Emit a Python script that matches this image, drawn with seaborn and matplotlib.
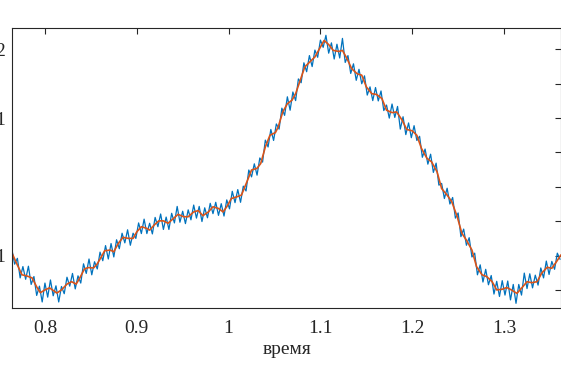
import numpy as np
import pandas as pd
import matplotlib
matplotlib.use("Agg")
import matplotlib.pyplot as plt
import seaborn as sns

# smooth (orange) curve
t_smooth = [0.764, 0.769, 0.775, 0.780, 0.786, 0.791, 0.795, 0.800, 0.805, 0.813,
            0.818, 0.824, 0.829, 0.834, 0.838, 0.843, 0.847, 0.853, 0.857, 0.862,
            0.865, 0.871, 0.875, 0.880, 0.885, 0.891, 0.896, 0.900, 0.905, 0.911,
            0.914, 0.919, 0.924, 0.929, 0.934, 0.940, 0.945, 0.951, 0.956, 0.962,
            0.967, 0.972, 0.978, 0.983, 0.989, 0.994, 0.998, 1.003, 1.009, 1.014,
            1.020, 1.025, 1.031, 1.035, 1.040, 1.045, 1.051, 1.054, 1.059, 1.064,
            1.069, 1.073, 1.078, 1.083, 1.089, 1.094, 1.099, 1.104, 1.109, 1.114,
            1.120, 1.124, 1.129, 1.134, 1.140, 1.145, 1.150, 1.156, 1.161, 1.167,
            1.172, 1.178, 1.183, 1.189, 1.194, 1.200, 1.205, 1.210, 1.216, 1.221,
            1.227, 1.232, 1.238, 1.243, 1.249, 1.254, 1.259, 1.265, 1.270, 1.276,
            1.281, 1.287, 1.292, 1.298, 1.303, 1.308, 1.314, 1.319, 1.325, 1.330,
            1.336, 1.341, 1.347, 1.352, 1.357, 1.362]
v_smooth = [1.08, 0.78, 0.44, 0.41, 0.35, 0.09, -0.08, 0.00, 0.06, -0.09,
            0.00, 0.17, 0.24, 0.17, 0.35, 0.61, 0.65, 0.64, 0.76, 0.99,
            1.14, 1.16, 1.11, 1.36, 1.53, 1.50, 1.50, 1.69, 1.84, 1.79,
            1.74, 1.89, 2.01, 2.01, 1.94, 2.08, 2.20, 2.13, 2.13, 2.27,
            2.31, 2.16, 2.27, 2.42, 2.37, 2.27, 2.42, 2.66, 2.71, 2.76,
            3.15, 3.49, 3.54, 3.68, 4.16, 4.50, 4.58, 4.74, 5.18, 5.42,
            5.52, 5.71, 6.10, 6.49, 6.65, 6.78, 7.02, 7.26, 7.14, 6.97,
            6.94, 6.97, 6.73, 6.44, 6.29, 6.25, 5.91, 5.71, 5.69, 5.57,
            5.23, 5.16, 5.18, 4.94, 4.67, 4.63, 4.50, 4.12, 3.83, 3.73,
            3.44, 2.95, 2.76, 2.57, 2.13, 1.65, 1.45, 1.16, 0.68, 0.44,
            0.39, 0.24, 0.00, 0.02, 0.07, 0.00, -0.10, 0.05, 0.24, 0.21,
            0.24, 0.49, 0.66, 0.63, 0.82, 1.02]

# noisy (blue) measurement, sampled every 0.003 from 0.764
t_start, t_step = 0.764, 0.003
v_noisy = [1.18, 0.75, 0.92, 0.35, 0.68, 0.31, 0.69, 0.16, 0.39, -0.16,
           0.11, -0.35, 0.20, -0.21, 0.29, -0.17, 0.12, -0.35, 0.10, -0.11,
           0.37, 0.11, 0.48, 0.03, 0.41, 0.20, 0.76, 0.48, 0.90, 0.44,
           0.82, 0.61, 1.10, 0.85, 1.29, 0.90, 1.35, 0.96, 1.46, 1.20,
           1.65, 1.37, 1.75, 1.30, 1.65, 1.50, 1.95, 1.64, 2.06, 1.64,
           1.94, 1.63, 2.11, 1.84, 2.21, 1.76, 2.12, 1.76, 2.23, 1.95,
           2.43, 1.97, 2.29, 1.93, 2.33, 2.04, 2.47, 2.09, 2.43, 1.99,
           2.39, 2.10, 2.52, 2.22, 2.55, 2.17, 2.51, 2.15, 2.62, 2.36,
           2.87, 2.54, 2.92, 2.55, 3.02, 2.88, 3.49, 3.29, 3.67, 3.34,
           3.84, 3.72, 4.36, 4.16, 4.67, 4.35, 4.83, 4.68, 5.29, 5.08,
           5.62, 5.23, 5.76, 5.51, 6.14, 6.03, 6.61, 6.35, 6.82, 6.50,
           6.98, 6.77, 7.27, 7.06, 7.41, 6.89, 7.19, 6.72, 7.15, 6.75,
           7.32, 6.62, 6.82, 6.30, 6.58, 6.10, 6.42, 6.00, 6.23, 5.67,
           5.91, 5.51, 5.89, 5.50, 5.79, 5.22, 5.38, 5.00, 5.41, 5.02,
           5.34, 4.68, 5.04, 4.52, 4.86, 4.43, 4.78, 4.35, 4.47, 3.86,
           4.10, 3.66, 3.95, 3.42, 3.69, 3.05, 3.10, 2.66, 2.96, 2.50,
           2.69, 2.09, 2.24, 1.55, 1.77, 1.30, 1.52, 0.96, 1.07, 0.44,
           0.73, 0.23, 0.60, 0.15, 0.42, -0.12, 0.25, -0.19, 0.27, -0.15,
           0.26, -0.29, 0.16, -0.39, 0.16, -0.15, 0.49, 0.04, 0.47, 0.06,
           0.43, 0.14, 0.64, 0.35, 0.84, 0.45, 0.83, 0.60, 1.07, 0.89]
t_noisy = np.linspace(t_start, t_start + t_step * (len(v_noisy) - 1), len(v_noisy))

x_ticks = [0.8, 0.9, 1.0, 1.1, 1.2, 1.3]
x_tick_labels = ["0.8", "0.9", "1", "1.1", "1.2", "1.3"]
y_ticks = [0, 1, 2, 3, 4, 5, 6, 7]
y_tick_labels = ["", "1", "", "", "", "1", "", "2"]

sns.set_style("white")
plt.rcParams['font.family'] = ['Liberation Serif', 'DejaVu Serif']

fig = plt.figure(figsize=(5.61, 3.74), dpi=100)
ax = fig.add_axes([0.022, 0.177, 0.978, 0.747])

noisy = pd.DataFrame({'t': t_noisy, 'v': v_noisy})
smooth = pd.DataFrame({'t': t_smooth, 'v': v_smooth})
sns.lineplot(data=noisy, x='t', y='v', ax=ax, color='#0072BD', linewidth=0.9,
             estimator=None, sort=False)
sns.lineplot(data=smooth, x='t', y='v', ax=ax, color='#D95319', linewidth=1.2,
             estimator=None, sort=False)

ax.set_xlim(0.7645, 1.362)
ax.set_ylim(-0.52, 7.61)
ax.set_xticks(x_ticks)
ax.set_xticklabels(x_tick_labels)
ax.set_yticks(y_ticks)
ax.set_yticklabels(y_tick_labels)
ax.set_xlabel('время', fontsize=14, labelpad=3)
ax.set_ylabel('')
ax.tick_params(axis='both', direction='in', length=4, width=0.8, labelsize=14,
               top=True, right=True, color='#262626', labelcolor='#262626')
ax.tick_params(axis='x', pad=9)
ax.tick_params(axis='y', pad=5)
for s in ax.spines.values():
    s.set_color('#262626')
    s.set_linewidth(0.8)

fig.savefig('out.png', dpi=100)
